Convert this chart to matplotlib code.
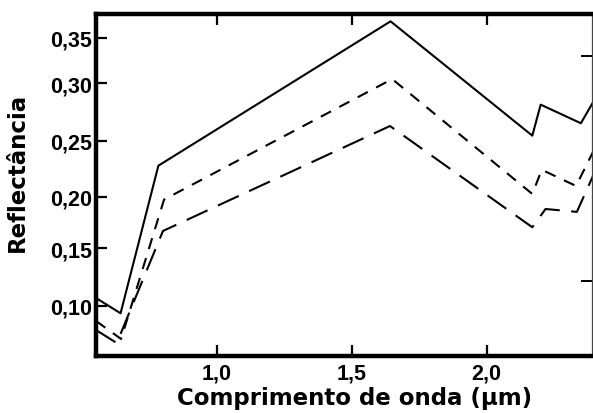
import numpy as np
import matplotlib
matplotlib.use("Agg")
import matplotlib.pyplot as plt

plt.rcParams['font.family'] = ['Liberation Sans', 'DejaVu Sans']
plt.rcParams['font.weight'] = 'bold'

# wavelength (um) and reflectance for the three curves
wl_solid = [0.553, 0.644, 0.784, 1.644, 2.169, 2.200, 2.349, 2.40]
refl_solid = [0.1067, 0.0934, 0.2278, 0.3684, 0.2544, 0.2814, 0.2652, 0.286]

wl_short = [0.553, 0.646, 0.805, 1.650, 2.169, 2.204, 2.331, 2.40]
refl_short = [0.0867, 0.0710, 0.1975, 0.3047, 0.2027, 0.2242, 0.2098, 0.243]

wl_long = [0.553, 0.630, 0.801, 1.642, 2.169, 2.218, 2.334, 2.40]
refl_long = [0.0788, 0.0675, 0.1669, 0.2628, 0.1705, 0.1883, 0.1855, 0.222]

xticks = [1.0, 1.5, 2.0]
xtick_labels = ['1,0', '1,5', '2,0']
yticks = [0.10, 0.15, 0.20, 0.25, 0.30, 0.35]
ytick_labels = ['0,10', '0,15', '0,20', '0,25', '0,30', '0,35']
right_ticks = [0.126, 0.337]

# the printed y axis is not evenly spaced, so use a piecewise scale
y_knots = [0.0562, 0.10, 0.15, 0.20, 0.25, 0.30, 0.35, 0.3765]
y_pos = [0.0, 50.3, 107.7, 159.0, 215.3, 272.7, 318.0, 342.0]


def fwd(v):
    return np.interp(v, y_knots, y_pos)


def inv(p):
    return np.interp(p, y_pos, y_knots)


fig = plt.figure(figsize=(5.93, 4.14), dpi=100)
ax = fig.add_axes([96 / 593, 57 / 414, (591.7 - 96) / 593, 342 / 414])
ax.set_yscale('function', functions=(fwd, inv))

lw = 1.5
ax.plot(wl_solid, refl_solid, color='black', lw=lw)
ax.plot(wl_short, refl_short, color='black', lw=lw, dashes=(5.5, 4.5))
ax.plot(wl_long, refl_long, color='black', lw=lw, dashes=(11, 5.5))

ax.set_xlim(0.553, 2.389)
ax.set_ylim(0.0562, 0.3765)

ax.set_xticks(xticks)
ax.set_xticklabels(xtick_labels)
ax.set_yticks(yticks)
ax.set_yticklabels(ytick_labels)
ax.minorticks_off()

ax.tick_params(axis='both', direction='in', length=8, width=1.6,
               labelsize=15.5)
ax.tick_params(axis='x', top=True, pad=5)
ax.tick_params(axis='y', right=False, pad=3)

for s in ['left', 'top', 'bottom']:
    ax.spines[s].set_linewidth(3.2)
ax.spines['right'].set_linewidth(0.9)
ax.spines['right'].set_color('#444444')

sec = ax.secondary_yaxis('right')
sec.set_yticks(right_ticks)
sec.set_yticklabels([])
sec.minorticks_off()
sec.tick_params(direction='in', length=8, width=1.4)
sec.spines['right'].set_visible(False)

# axis titles are printed in a wider bold face
ax.set_xlabel('Comprimento de onda (µm)', fontsize=16.5, fontweight='bold',
              family=['DejaVu Sans'])
ax.xaxis.set_label_coords(0.5225, -0.088)
ax.set_ylabel('Reflectância', fontsize=16.5, fontweight='bold',
              family=['DejaVu Sans'])
ax.yaxis.set_label_coords(-0.135, 0.54)

fig.savefig('out.png', dpi=100)
